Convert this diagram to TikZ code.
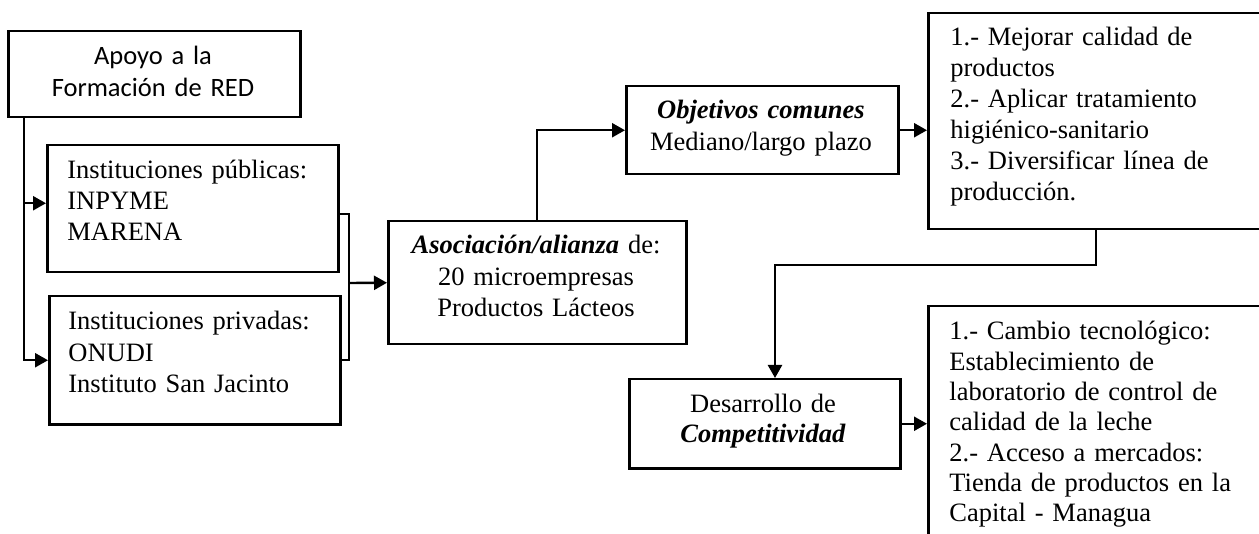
\documentclass[tikz,border=0pt]{standalone}
\usepackage{fontspec}
\setmainfont{Liberation Serif}
\newfontfamily\calfont{Carlito}
\usetikzlibrary{arrows.meta}
\begin{document}
\begin{tikzpicture}[x=0.5pt,y=-0.5pt,
  boxst/.style={draw, line width=1.25pt, inner sep=0pt, anchor=north west},
  tl/.style={inner sep=0pt, anchor=base west, align=left, text width=#1},
  tc/.style={inner sep=0pt, anchor=base, align=center, text width=#1},
  conn/.style={line width=1.2pt},
  arr/.style={line width=1.2pt, -{Triangle[length=6.5pt,width=7pt]}},
  tnr/.style={font=\fontsize{13.25pt}{#1}\selectfont},
]
\useasboundingbox (0,0) rectangle (1259,534);
\clip (0,0) rectangle (1259,534);

% boxes
\node[boxst, minimum width=146pt, minimum height=43pt] (A) at (7,30) {};
\node[boxst, minimum width=145.5pt, minimum height=63.5pt] (B) at (46,144) {};
\node[boxst, minimum width=145.5pt, minimum height=64pt] (C) at (48,295) {};
\node[boxst, minimum width=149pt, minimum height=61.5pt] (D) at (387,220) {};
\node[boxst, minimum width=136pt, minimum height=44pt] (E) at (625,85) {};
\node[boxst, minimum width=186.5pt, minimum height=108pt] (F) at (927,12) {};
\node[boxst, minimum width=135.5pt, minimum height=44.5pt] (G) at (628,378) {};
\node[boxst, minimum width=186.5pt, minimum height=150pt] (H) at (927,305) {};

% texts
\node[tc=140pt, font=\calfont\fontsize{13.25pt}{16pt}\selectfont] (At) at (153,65)
  {Apoyo a la\\Formación de RED};
\node[tl=140pt, tnr=15.4pt] (Bt) at (67,179)
  {Instituciones públicas:\\INPYME\\MARENA};
\node[tl=140pt, tnr=15.6pt] (Ct) at (68,330)
  {Instituciones privadas:\\ONUDI\\Instituto San Jacinto};
\node[tc=145pt, tnr=15.6pt] (Dt) at (536,254)
  {\textbf{\textit{Asociación/alianza}} de:\\20 microempresas\\Productos Lácteos};
\node[tc=134pt, tnr=16pt] (Et) at (761,119)
  {\textbf{\textit{Objetivos comunes}}\\Mediano/largo plazo};
\node[tl=170pt, tnr=15.5pt] (Ft) at (950,46)
  {1.- Mejorar calidad de\\productos\\2.- Aplicar tratamiento\\higiénico-sanitario\\3.- Diversificar línea de\\producción.};
\node[tc=134pt, tnr=15pt] (Gt) at (763,413)
  {Desarrollo de\\\textbf{\textit{Competitividad}}};
\node[tl=170pt, tnr=15.15pt] (Ht) at (949,340)
  {1.- Cambio tecnológico:\\Establecimiento de\\laboratorio de control de\\calidad de la leche\\2.- Acceso a mercados:\\Tienda de productos en la\\Capital - Managua};

% connectors
\coordinate (trunk) at (24,0);
\coordinate (bx) at (349,283);
\coordinate (fx) at (1096,265);
\coordinate (gx) at (775,0);

\draw[arr] (A.south -| trunk) |- ([yshift=2.75pt]B.west);
\draw[arr] (A.south -| trunk) |- (C.west);
\draw[conn] ([yshift=-2.75pt]B.east) -| (bx) |- (C.east);
\draw[arr] (bx) -- (D.west);
\draw[arr] (D.north) |- (E.west);
\draw[arr] (E.east) -- (E.east -| F.west);
\draw[arr] (F.south -| fx) -- (fx) -| (G.north -| gx);
\draw[arr] (G.east) -- (G.east -| H.west);
\end{tikzpicture}
\end{document}
